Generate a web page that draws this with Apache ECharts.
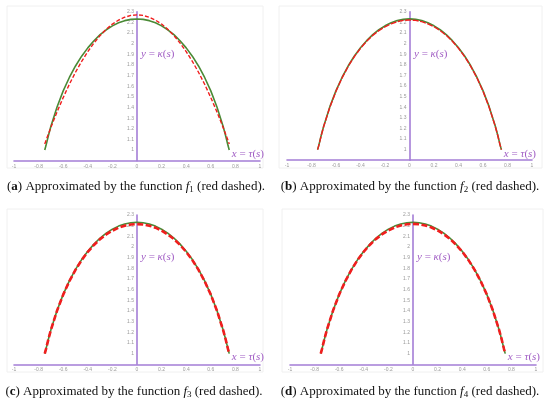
<!DOCTYPE html>
<html>
<head>
<meta charset="utf-8">
<script src="https://cdn.jsdelivr.net/npm/echarts@6/dist/echarts.min.js"></script>
<style>
  html, body { margin: 0; padding: 0; background: #fff; }
  #main { width: 550px; height: 404px; }
</style>
</head>
<body>
<div id="main"></div>
<script>
// tau values along the curve (shared by all panels)
var tauX = [-0.75, -0.74, -0.72, -0.7, -0.65, -0.6, -0.55, -0.5, -0.45, -0.4, -0.35, -0.3, -0.25, -0.2, -0.15, -0.1, -0.05, 0,
            0.05, 0.1, 0.15, 0.2, 0.25, 0.3, 0.35, 0.4, 0.45, 0.5, 0.55, 0.6, 0.65, 0.7, 0.72, 0.74, 0.75];
// exact curve kappa (green)
var kappaExact = [1.0, 1.042, 1.137, 1.223, 1.405, 1.556, 1.682, 1.790, 1.882, 1.960, 2.027, 2.084, 2.130, 2.167, 2.196, 2.216, 2.228, 2.232,
                  2.228, 2.216, 2.196, 2.167, 2.130, 2.084, 2.027, 1.960, 1.882, 1.790, 1.682, 1.556, 1.405, 1.223, 1.137, 1.042, 1.0];
// approximations (red dashed)
var kappaF1 = [1.057, 1.089, 1.152, 1.213, 1.359, 1.493, 1.618, 1.731, 1.833, 1.925, 2.006, 2.076, 2.135, 2.184, 2.221, 2.248, 2.265, 2.270,
               2.265, 2.248, 2.221, 2.184, 2.135, 2.076, 2.006, 1.925, 1.833, 1.731, 1.618, 1.493, 1.359, 1.213, 1.152, 1.089, 1.057];
var kappaF2 = [1.0, 1.040, 1.135, 1.220, 1.400, 1.550, 1.677, 1.785, 1.877, 1.955, 2.021, 2.077, 2.122, 2.158, 2.186, 2.206, 2.218, 2.222,
               2.218, 2.206, 2.186, 2.158, 2.122, 2.077, 2.021, 1.955, 1.877, 1.785, 1.677, 1.550, 1.400, 1.220, 1.135, 1.040, 1.0];
var kappaF3 = [1.0, 1.042, 1.137, 1.222, 1.403, 1.553, 1.679, 1.786, 1.877, 1.954, 2.019, 2.074, 2.118, 2.153, 2.181, 2.200, 2.211, 2.215,
               2.211, 2.200, 2.181, 2.153, 2.118, 2.074, 2.019, 1.954, 1.877, 1.786, 1.679, 1.553, 1.403, 1.222, 1.137, 1.042, 1.0];
var kappaF4 = [1.0, 1.043, 1.138, 1.223, 1.404, 1.555, 1.680, 1.788, 1.879, 1.956, 2.021, 2.076, 2.120, 2.155, 2.183, 2.202, 2.213, 2.217,
               2.213, 2.202, 2.183, 2.155, 2.120, 2.076, 2.021, 1.956, 1.879, 1.788, 1.680, 1.555, 1.404, 1.223, 1.138, 1.043, 1.0];

var panelLetters = ['a', 'b', 'c', 'd'];
var fnIndex = ['1', '2', '3', '4'];
var approxSets = [kappaF1, kappaF2, kappaF3, kappaF4];

var purple = '#a47dd6';
var labelPurple = '#a05cc4';
var green = '#4a8a36';
var red = '#f01e1e';
var serif = '"Liberation Serif", "DejaVu Serif", serif';

var grids = [
  { left: 14, top: 11.7, width: 246, height: 149 },
  { left: 287, top: 11.7, width: 245, height: 148.5 },
  { left: 14, top: 215, width: 246, height: 149.3 },
  { left: 290, top: 215, width: 246, height: 149.3 }
];
var frames = [
  { x: 7, y: 6, w: 256, h: 162 },
  { x: 279, y: 6, w: 263, h: 162 },
  { x: 7, y: 209, w: 256, h: 163 },
  { x: 282, y: 209, w: 261, h: 163 }
];
var captionPos = [[136, 187], [410, 187], [134, 392], [410, 392]];
var redWidth = [1.4, 1.4, 2.6, 2.6];
var redDash = [[4, 2], [6, 1.5], [6, 2.5], [6, 2.5]];

function pairs(ys) {
  return tauX.map(function (x, i) { return [x, ys[i]]; });
}

var xAxes = [], yAxes = [], series = [], graphics = [];
grids.forEach(function (g, i) {
  xAxes.push({
    type: 'value', gridIndex: i, min: -1, max: 1, interval: 0.2,
    axisLine: { onZero: false, lineStyle: { color: purple, width: 1.6 } },
    axisTick: { show: false }, splitLine: { show: false },
    axisLabel: { fontSize: 5, color: '#9a9a9a', margin: 3 }
  });
  // the vertical axis sits at tau = 0, i.e. the middle of the grid
  yAxes.push({
    type: 'value', gridIndex: i, min: 0.9, max: 2.3, interval: 0.1,
    position: 'left', offset: -g.width / 2,
    axisLine: { show: true, onZero: false, lineStyle: { color: purple, width: 1.6 } },
    axisTick: { show: false }, splitLine: { show: false },
    axisLabel: {
      fontSize: 5, color: '#9a9a9a', margin: 3,
      formatter: function (v) { return v < 0.95 ? '' : String(+v.toFixed(1)); }
    }
  });
  series.push({
    type: 'line', xAxisIndex: i, yAxisIndex: i, data: pairs(kappaExact),
    showSymbol: false, smooth: false, z: 2,
    lineStyle: { color: green, width: 1.6 }
  });
  series.push({
    type: 'line', xAxisIndex: i, yAxisIndex: i, data: pairs(approxSets[i]),
    showSymbol: false, smooth: false, z: 3,
    lineStyle: { color: red, width: redWidth[i], type: redDash[i] }
  });

  var f = frames[i];
  graphics.push({
    type: 'rect', z: 0, silent: true,
    shape: { x: f.x, y: f.y, width: f.w, height: f.h },
    style: { fill: 'none', stroke: '#f0f0f0', lineWidth: 1 }
  });
  graphics.push({
    type: 'text', z: 10, x: g.left + 127, y: g.top + 42,
    style: {
      text: '{i|y} = {i|κ}({i|s})', fill: labelPurple, fontSize: 11, fontFamily: serif,
      verticalAlign: 'middle',
      rich: { i: { fontStyle: 'italic', fontSize: 11, fontFamily: serif, fill: labelPurple } }
    }
  });
  graphics.push({
    type: 'text', z: 10, x: g.left + g.width + 4, y: g.top + 142.5,
    style: {
      text: '{i|x} = {i|τ}({i|s})', fill: labelPurple, fontSize: 11, fontFamily: serif,
      align: 'right', verticalAlign: 'middle',
      rich: { i: { fontStyle: 'italic', fontSize: 11, fontFamily: serif, fill: labelPurple } }
    }
  });
  var c = captionPos[i];
  graphics.push({
    type: 'text', z: 10, x: c[0], y: c[1],
    style: {
      text: '({b|' + panelLetters[i] + '}) Approximated by the function {f|f}{s|' + fnIndex[i] + '} (red dashed).',
      fill: '#111', fontSize: 13, fontFamily: serif, align: 'center', verticalAlign: 'middle',
      rich: {
        b: { fontWeight: 'bold', fontSize: 13, fontFamily: serif, fill: '#111' },
        f: { fontStyle: 'italic', fontSize: 13, fontFamily: serif, fill: '#111' },
        s: { fontSize: 9, fontFamily: serif, fill: '#111', padding: [6, 0, 0, 0] }
      }
    }
  });
});

var chart = echarts.init(document.getElementById('main'));
chart.setOption({
  animation: false,
  backgroundColor: '#fff',
  grid: grids,
  xAxis: xAxes,
  yAxis: yAxes,
  series: series,
  graphic: graphics
});
</script>
</body>
</html>
